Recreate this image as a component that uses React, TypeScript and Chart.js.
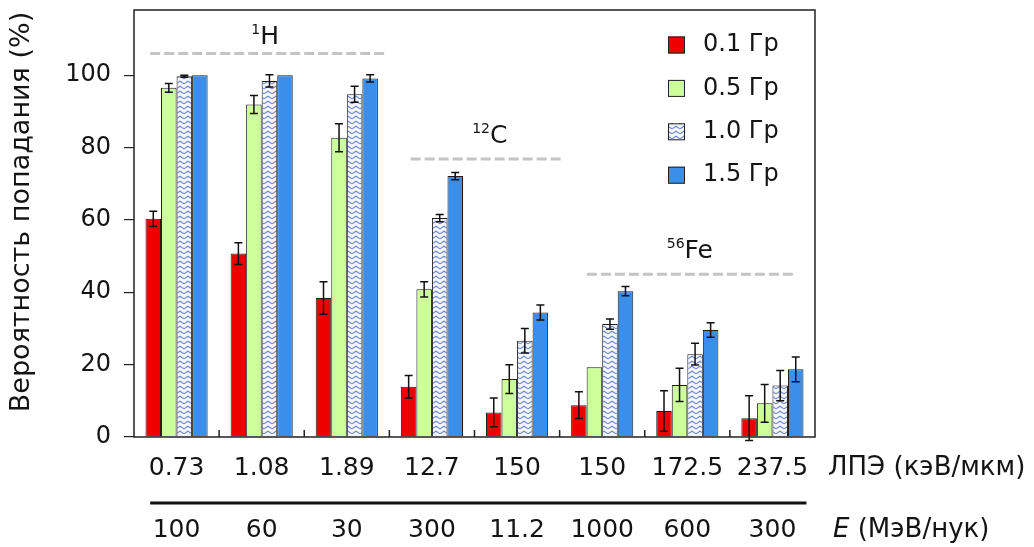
import React, { useEffect, useRef } from 'react';
import { Chart, registerables } from 'chart.js';

Chart.register(...registerables);

// ---- Data ----
const categories = ['0.73', '1.08', '1.89', '12.7', '150', '150', '172.5', '237.5'];
const energies = ['100', '60', '30', '300', '11.2', '1000', '600', '300'];
const seriesLabels = ['0.1 Гр', '0.5 Гр', '1.0 Гр', '1.5 Гр'];

const dose01 = [60.3, 50.7, 38.4, 13.9, 6.8, 8.8, 7.2, 5.2];
const dose05 = [96.5, 91.9, 82.7, 40.8, 16.0, 19.3, 14.4, 9.3];
const dose10 = [99.7, 98.4, 94.7, 60.5, 26.6, 31.2, 22.9, 14.2];
const dose15 = [100, 100, 99.1, 72.1, 34.4, 40.3, 29.6, 18.7];

const err01 = [2.1, 3.0, 4.5, 3.1, 4.0, 3.7, 5.6, 6.2];
const err05 = [1.2, 2.5, 3.9, 2.1, 4.0, 0, 4.6, 5.2];
const err10 = [0.3, 1.7, 2.2, 1.0, 3.4, 1.4, 3.0, 4.2];
const err15 = [0, 0, 1.0, 1.0, 2.1, 1.3, 2.0, 3.4];

const ionSup = ['1', '12', '56'];
const ionBase = ['H', 'C', 'Fe'];

const xAxisTitle = 'ЛПЭ (кэВ/мкм)';
const eAxisSymbol = 'E';
const eAxisTitle = ' (МэВ/нук)';
const yAxisTitle = 'Вероятность попадания (%)';

// ---- Layout (positions in axis units) ----
const ionLineY = [106, 76.8, 45];
const ionLineFrom = [-0.31, 2.75, 4.82];
const ionLineTo = [2.47, 4.54, 7.24];
const ionTextX = [1.04, 3.68, 6.03];
const ionTextY = [108.5, 81.2, 49.6];

const FONT = "'DejaVu Sans', sans-serif";
const TEXT = '#141414';

function makePattern(): CanvasPattern | string {
  const c = document.createElement('canvas');
  c.width = 8;
  c.height = 5;
  const g = c.getContext('2d');
  if (!g) return '#dfe6f7';
  g.fillStyle = '#f3f6fd';
  g.fillRect(0, 0, 8, 5);
  g.strokeStyle = '#6f86cc';
  g.lineWidth = 1.1;
  g.beginPath();
  g.moveTo(0, 3.8);
  g.lineTo(4, 1.2);
  g.lineTo(8, 3.8);
  g.stroke();
  const p = g.createPattern(c, 'repeat');
  return p || '#dfe6f7';
}

export default function App() {
  const ref = useRef<HTMLCanvasElement | null>(null);

  useEffect(() => {
    const canvas = ref.current;
    if (!canvas) return;
    const pattern = makePattern();
    const fills: any[] = ['#ee0000', '#ccff99', pattern, '#3a8fea'];
    const values = [dose01, dose05, dose10, dose15];
    const errors = [err01, err05, err10, err15];

    const decor = {
      id: 'decor',
      afterDatasetsDraw(chart: any) {
        const ctx = chart.ctx;
        const xs = chart.scales.x;
        const ys = chart.scales.y;
        const area = chart.chartArea;
        ctx.save();

        // error bars
        ctx.strokeStyle = '#111';
        ctx.lineWidth = 1.5;
        values.forEach((vals, di) => {
          const meta = chart.getDatasetMeta(di);
          meta.data.forEach((el: any, j: number) => {
            const e = errors[di][j];
            if (!e) return;
            const yT = ys.getPixelForValue(vals[j] + e);
            const yB = ys.getPixelForValue(vals[j] - e);
            ctx.beginPath();
            ctx.moveTo(el.x, yT);
            ctx.lineTo(el.x, yB);
            ctx.moveTo(el.x - 4, yT);
            ctx.lineTo(el.x + 4, yT);
            ctx.moveTo(el.x - 4, yB);
            ctx.lineTo(el.x + 4, yB);
            ctx.stroke();
          });
        });

        // frame
        ctx.strokeStyle = '#222';
        ctx.lineWidth = 1.5;
        ctx.strokeRect(area.left, area.top, area.right - area.left, area.bottom - area.top);

        // inner ticks between groups
        ctx.lineWidth = 1.5;
        for (let i = 1; i < categories.length; i++) {
          const x = (xs.getPixelForValue(i - 1) + xs.getPixelForValue(i)) / 2;
          ctx.beginPath();
          ctx.moveTo(x, area.bottom);
          ctx.lineTo(x, area.bottom - 7);
          ctx.stroke();
        }

        // ion dashed lines and labels
        ctx.strokeStyle = '#c4c4c4';
        ctx.lineWidth = 3;
        ctx.setLineDash([10, 4]);
        ionLineY.forEach((yv, k) => {
          const y = ys.getPixelForValue(yv);
          ctx.beginPath();
          ctx.moveTo(xs.getPixelForValue(ionLineFrom[k]), y);
          ctx.lineTo(xs.getPixelForValue(ionLineTo[k]), y);
          ctx.stroke();
        });
        ctx.setLineDash([]);
        ctx.fillStyle = TEXT;
        ctx.textBaseline = 'alphabetic';
        ctx.textAlign = 'left';
        ionSup.forEach((s, k) => {
          ctx.font = `14px ${FONT}`;
          const sw = ctx.measureText(s).width;
          ctx.font = `25px ${FONT}`;
          const bw = ctx.measureText(ionBase[k]).width;
          const cx = xs.getPixelForValue(ionTextX[k]);
          const y = ys.getPixelForValue(ionTextY[k]);
          const x0 = cx - (sw + bw) / 2;
          ctx.font = `14px ${FONT}`;
          ctx.fillText(s, x0, y - 10);
          ctx.font = `25px ${FONT}`;
          ctx.fillText(ionBase[k], x0 + sw, y);
        });

        // legend
        ctx.textBaseline = 'middle';
        seriesLabels.forEach((lab, k) => {
          const y = 45 + k * 43.4;
          ctx.fillStyle = fills[k];
          ctx.fillRect(668, y - 8.5, 17, 17);
          ctx.strokeStyle = '#222';
          ctx.lineWidth = 1;
          ctx.strokeRect(668.5, y - 8, 16, 16);
          ctx.fillStyle = TEXT;
          ctx.font = `24px ${FONT}`;
          ctx.fillText(lab, 703, y);
        });

        // x-axis separator and side titles
        ctx.strokeStyle = '#111';
        ctx.lineWidth = 3;
        ctx.beginPath();
        ctx.moveTo(xs.getPixelForValue(-0.31), 503);
        ctx.lineTo(xs.getPixelForValue(7.4), 503);
        ctx.stroke();
        ctx.font = `26px ${FONT}`;
        ctx.fillStyle = TEXT;
        ctx.textBaseline = 'middle';
        ctx.fillText(xAxisTitle, 828, 468);
        ctx.font = `italic 26px ${FONT}`;
        ctx.fillText(eAxisSymbol, 833, 530);
        const ew = ctx.measureText(eAxisSymbol).width;
        ctx.font = `26px ${FONT}`;
        ctx.fillText(eAxisTitle, 833 + ew, 530);

        // y title
        ctx.save();
        ctx.translate(22, 212);
        ctx.rotate(-Math.PI / 2);
        ctx.textAlign = 'center';
        ctx.font = `27px ${FONT}`;
        ctx.fillText(yAxisTitle, 0, 0);
        ctx.restore();

        ctx.restore();
      },
    };

    const chart = new Chart(canvas, {
      type: 'bar',
      data: {
        labels: categories,
        datasets: seriesLabels.map((lab, i) => ({
          label: lab,
          data: values[i],
          backgroundColor: fills[i],
          borderColor: '#1e1e1e',
          borderWidth: 1,
          categoryPercentage: 0.73,
          barPercentage: 1.0,
        })),
      },
      options: {
        responsive: false,
        animation: false,
        devicePixelRatio: 1,
        layout: { padding: { left: 0, top: 10, right: 219, bottom: 0 } },
        plugins: {
          legend: { display: false },
          tooltip: { enabled: false },
        },
        scales: {
          x: {
            grid: { display: false, drawTicks: false },
            border: { display: false },
            ticks: {
              autoSkip: false,
              maxRotation: 0,
              padding: 0,
              color: TEXT,
              font: { family: FONT, size: 25, lineHeight: 2.48 },
              callback: (_v: any, i: number) => [categories[i], energies[i]],
            },
            afterFit: (s: any) => {
              s.height = 110;
              s.paddingLeft = 0;
              s.paddingRight = 0;
            },
          },
          y: {
            min: 0,
            max: 118,
            grid: { drawOnChartArea: false, drawTicks: true, tickLength: 10, color: '#222', lineWidth: 1.2 },
            border: { display: false },
            ticks: {
              stepSize: 20,
              includeBounds: false,
              padding: 13,
              color: TEXT,
              font: { family: FONT, size: 24 },
            },
            afterFit: (s: any) => {
              s.width = 134;
              s.paddingTop = 0;
              s.paddingBottom = 0;
            },
          },
        },
      },
      plugins: [decor],
    } as any);

    return () => chart.destroy();
  }, []);

  return (
    <div style={{ position: 'absolute', left: 0, top: 0, width: 1034, height: 547, background: '#fff' }}>
      <canvas ref={ref} width={1034} height={547} style={{ display: 'block' }} />
    </div>
  );
}
